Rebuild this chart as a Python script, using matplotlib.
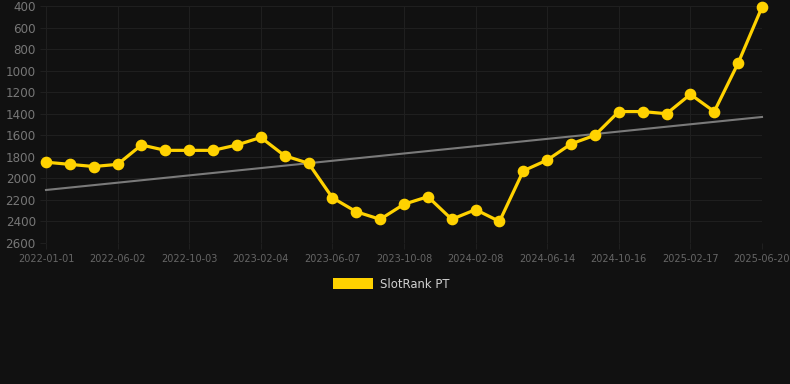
import matplotlib
matplotlib.use("Agg")
import matplotlib.pyplot as plt
from matplotlib.patches import Rectangle
import numpy as np

tick_labels = ["2022-01-01", "2022-06-02", "2022-10-03", "2023-02-04", "2023-06-07",
               "2023-10-08", "2024-02-08", "2024-06-14", "2024-10-16", "2025-02-17",
               "2025-06-20"]
rank = [1850, 1870, 1890, 1870, 1690, 1740, 1740, 1740, 1690, 1620,
        1790, 1860, 2180, 2310, 2380, 2240, 2170, 2380, 2290, 2400,
        1930, 1830, 1680, 1600, 1380, 1380, 1400, 1220, 1380, 930, 410]
series_name = "SlotRank PT"
y_ticks = [400, 600, 800, 1000, 1200, 1400, 1600, 1800, 2000, 2200, 2400, 2600]

BG = "#111111"
GOLD = "#FFD200"
GRID = "#1f1f1f"

W, H = 790, 384
fig = plt.figure(figsize=(W / 100, H / 100), dpi=100, facecolor=BG)
ax = fig.add_axes([46 / W, 1 - 243 / H, (762 - 46) / W, (243 - 6) / H])
ax.set_facecolor(BG)

x = np.arange(len(rank))
# trend line (least squares)
coef = np.polyfit(x, rank, 1)
ax.plot(x, np.polyval(coef, x), color="#7a7a7a", lw=1.5, zorder=2, clip_on=False)

ax.plot(x, rank, color=GOLD, lw=2.3, marker="o", ms=7.4, mfc=GOLD, mec=GOLD,
        zorder=3, clip_on=False)

ax.set_xlim(0, len(rank) - 1)
ax.set_ylim(2600, 400)
ax.set_yticks(y_ticks)
ax.set_yticklabels([str(v) for v in y_ticks])
tick_pos = np.arange(0, len(rank), 3)
ax.set_xticks(tick_pos)
ax.set_xticklabels(tick_labels)

ax.grid(True, color=GRID, lw=0.8)
ax.set_axisbelow(True)
for s in ax.spines.values():
    s.set_visible(False)
ax.tick_params(axis="y", colors=GRID, length=4.3, width=0.8, pad=3, labelsize=8.6,
               labelcolor="#777777")
ax.tick_params(axis="x", colors=GRID, length=4.3, width=0.8, pad=3.5, labelsize=7,
               labelcolor="#666666")

# legend
fig.add_artist(Rectangle((333 / W, 1 - 289 / H), 40 / W, 11 / H,
                         transform=fig.transFigure, facecolor=GOLD, edgecolor="none"))
fig.text(380 / W, 1 - 284.5 / H, series_name, color="#d0d0d0", fontsize=8.4,
         va="center", ha="left")

fig.savefig("out.png", dpi=100, facecolor=BG)
